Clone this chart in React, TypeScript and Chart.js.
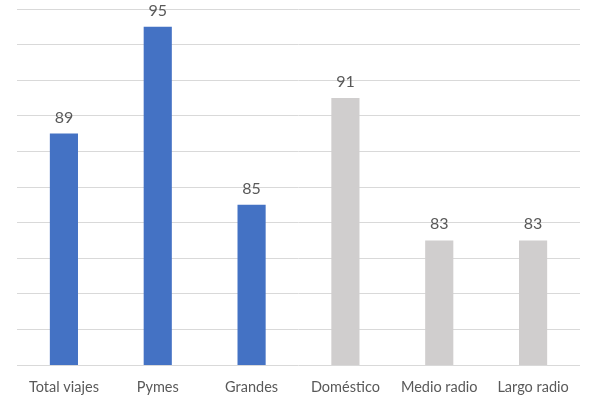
import React, { useEffect, useRef } from "react";
import { Chart, registerables } from "chart.js";

Chart.register(...registerables);

const categories = ["Total viajes", "Pymes", "Grandes", "Doméstico", "Medio radio", "Largo radio"];
const values = [89, 95, 85, 91, 83, 83];
const barColors = ["#4472C4", "#4472C4", "#4472C4", "#D0CECE", "#D0CECE", "#D0CECE"];
const yMin = 76;
const yMax = 96;
const yStep = 2;

const FONT = "Lato, 'Noto Sans', sans-serif";

const valueLabels = {
  id: "valueLabels",
  afterDatasetsDraw(chart: any) {
    const ctx = chart.ctx;
    const meta = chart.getDatasetMeta(0);
    ctx.save();
    ctx.fillStyle = "#595959";
    ctx.font = `16px ${FONT}`;
    ctx.textAlign = "center";
    ctx.textBaseline = "alphabetic";
    meta.data.forEach((bar: any, i: number) => {
      ctx.fillText(String(values[i]), bar.x, bar.y - 11);
    });
    ctx.restore();
  },
};

export default function App() {
  const ref = useRef<HTMLCanvasElement>(null);
  useEffect(() => {
    document.body.style.margin = "0";
    const chart = new Chart(ref.current!, {
      type: "bar",
      data: {
        labels: categories,
        datasets: [
          {
            data: values,
            backgroundColor: barColors,
            barPercentage: 0.6,
            categoryPercentage: 0.5,
          },
        ],
      },
      options: {
        animation: false,
        responsive: false,
        devicePixelRatio: 1,
        layout: { padding: { left: 17, right: 20, top: 9, bottom: 0 } },
        plugins: { legend: { display: false }, tooltip: { enabled: false } },
        scales: {
          x: {
            grid: { display: false },
            border: { display: false },
            ticks: { color: "#595959", font: { family: FONT, size: 14.5 }, padding: 6 },
            afterFit: (s: any) => {
              s.height = 36;
            },
          },
          y: {
            min: yMin,
            max: yMax,
            ticks: { display: false, stepSize: yStep },
            grid: { color: "#D9D9D9", drawTicks: false, lineWidth: 1 },
            border: { display: false },
            afterFit: (s: any) => {
              s.width = 0;
            },
          },
        },
      },
      plugins: [valueLabels],
    });
    return () => chart.destroy();
  }, []);
  return (
    <div style={{ width: 600, height: 401, background: "#fff" }}>
      <canvas ref={ref} width={600} height={401} />
    </div>
  );
}
